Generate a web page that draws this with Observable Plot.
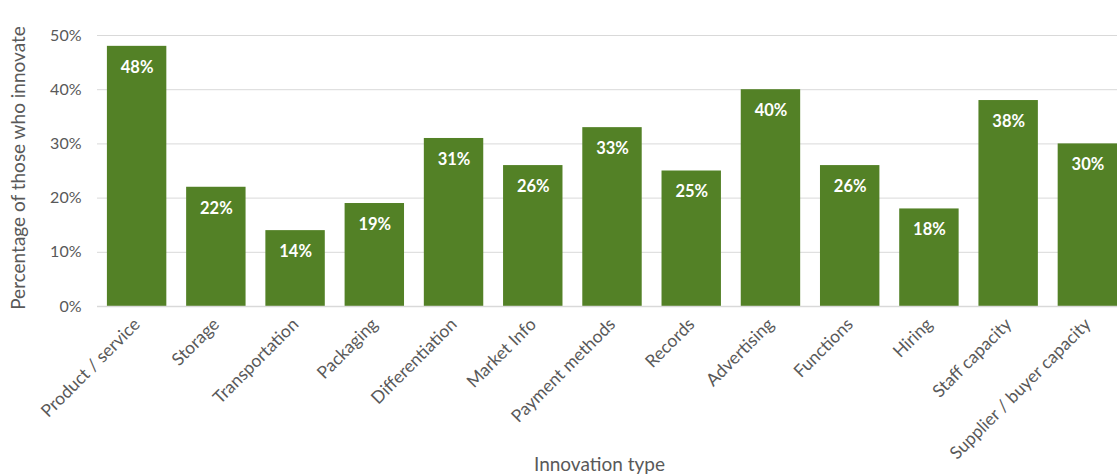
<!DOCTYPE html>
<html><head><meta charset="utf-8">
<script src="https://cdn.jsdelivr.net/npm/d3@7"></script>
<script src="https://cdn.jsdelivr.net/npm/@observablehq/plot@0.6"></script>
<style>
html,body{margin:0;padding:0;background:#fff;overflow:hidden;width:1117px;height:474px;}
#chart svg{max-width:none !important;width:1127px !important;height:474px !important;}
</style>
</head><body>
<div id="chart"></div>
<script>
const categories = ["Product / service","Storage","Transportation","Packaging","Differentiation","Market Info","Payment methods","Records","Advertising","Functions","Hiring","Staff capacity","Supplier / buyer capacity"];
const values = [48,22,14,19,31,26,33,25,40,26,18,38,30];
const yTicks = [0,10,20,30,40,50];
const xTitle = "Innovation type";
const yTitle = "Percentage of those who innovate";
const data = categories.map((c,i)=>({cat:c, v:values[i]}));
const green = "#538126";
const grey = "#595959";
const chart = Plot.plot({
  width: 1127, height: 474,
  marginLeft: 97, marginRight: 0, marginTop: 35, marginBottom: 168,
  style: {fontFamily: "Lato, 'Open Sans', sans-serif", fontSize: "15px", color: grey, background: "#fff"},
  x: {domain: categories, paddingInner: 0.25, paddingOuter: 0.125, round: false},
  y: {domain: [0,50]},
  marks: [
    Plot.gridY(yTicks, {stroke: "#d9d9d9", strokeOpacity: 1, strokeWidth: 1}),
    Plot.barY(data, {x: "cat", y: "v", fill: green}),
    Plot.ruleY([0], {stroke: "#d9d9d9", strokeWidth: 1.5}),
    Plot.text(data, {x: "cat", y: "v", text: d => d.v + "%", dy: 21, fill: "white", fontWeight: "bold", fontSize: 16.5}),
    Plot.axisY(yTicks, {tickSize: 0, tickPadding: 16, tickFormat: d => d + "%", fontSize: 16, label: null}),
    Plot.axisX({tickSize: 0, tickPadding: 15, tickRotate: -45, fontSize: 17.5, label: null}),
    Plot.text([yTitle], {frameAnchor: "left", textAnchor: "middle", lineAnchor: "middle", rotate: -90, dx: -79, dy: -3, fontSize: 19, fill: grey}),
    Plot.text([xTitle], {frameAnchor: "bottom", textAnchor: "middle", lineAnchor: "middle", dx: -13, dy: 158, fontSize: 19, fill: grey})
  ]
});
document.getElementById("chart").appendChild(chart);
</script>
</body></html>
